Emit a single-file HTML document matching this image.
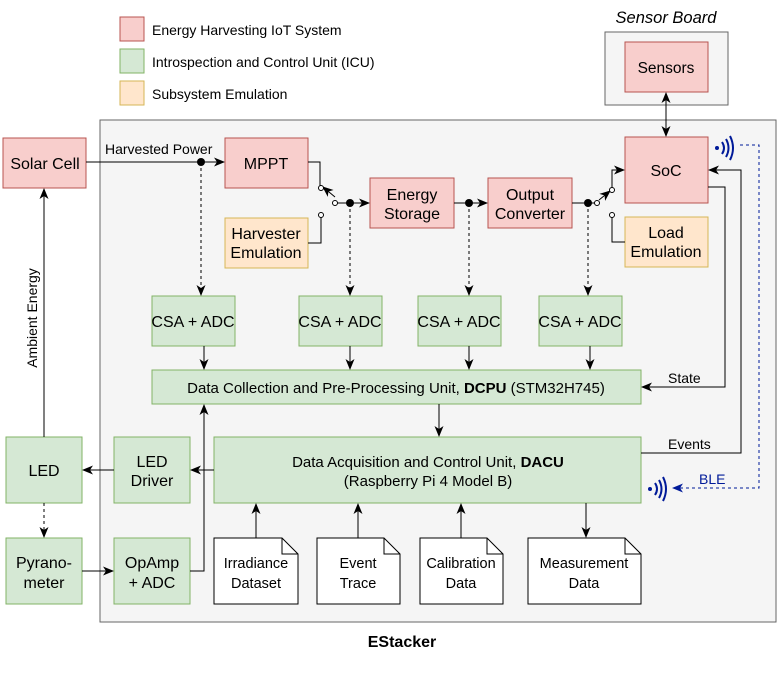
<!DOCTYPE html>
<html><head><meta charset="utf-8"><style>
html,body{margin:0;padding:0;background:#fff}
svg text{font-family:"Liberation Sans",Arial,sans-serif;font-size:14px;fill:#000}
</style></head><body>
<svg width="778" height="682" viewBox="0 0 778 682" xmlns="http://www.w3.org/2000/svg">
<defs>
<marker id="a" markerWidth="12" markerHeight="12" refX="10" refY="6" orient="auto" markerUnits="userSpaceOnUse"><path d="M0,1.5 L11,6 L0,10.5 L3,6 z" fill="#000"/></marker>
<marker id="ab" markerWidth="12" markerHeight="12" refX="10" refY="6" orient="auto" markerUnits="userSpaceOnUse"><path d="M0,1.5 L11,6 L0,10.5 L3,6 z" fill="#001a99"/></marker>
</defs>
<rect x="100" y="120" width="676" height="502" fill="#f5f5f5" stroke="#666"/>
<text x="402" y="647" text-anchor="middle" style="font-weight:bold;font-size:16px">EStacker</text>
<rect x="605" y="32" width="123" height="73" fill="#f5f5f5" stroke="#666"/>
<text x="666" y="23" text-anchor="middle" style="font-style:italic;font-size:16.5px">Sensor Board</text>
<rect x="120" y="17" width="24" height="24" fill="#f8cecc" stroke="#b85450"/>
<rect x="120" y="49" width="24" height="24" fill="#d5e8d4" stroke="#82b366"/>
<rect x="120" y="81" width="24" height="24" fill="#ffe6cc" stroke="#d6b656"/>
<text x="152" y="35" style="font-size:14px">Energy Harvesting IoT System</text>
<text x="152" y="67" style="font-size:14px">Introspection and Control Unit (ICU)</text>
<text x="152" y="99" style="font-size:14px">Subsystem Emulation</text>

<g stroke="#b85450" fill="#f8cecc">
<rect x="625" y="42" width="83" height="50"/>
<rect x="3" y="138" width="83" height="50"/>
<rect x="225" y="138" width="83" height="50"/>
<rect x="370" y="178" width="84" height="50"/>
<rect x="488" y="178" width="84" height="50"/>
<rect x="625" y="137" width="83" height="66"/>
</g>
<g stroke="#d6b656" fill="#ffe6cc">
<rect x="225" y="218" width="83" height="50"/>
<rect x="625" y="217" width="83" height="50"/>
</g>
<g stroke="#82b366" fill="#d5e8d4">
<rect x="152" y="296" width="83" height="50"/>
<rect x="299" y="296" width="83" height="50"/>
<rect x="418" y="296" width="83" height="50"/>
<rect x="539" y="296" width="83" height="50"/>
<rect x="152" y="370" width="489" height="34"/>
<rect x="214" y="437" width="427" height="66"/>
<rect x="114" y="437" width="76" height="66"/>
<rect x="6" y="437" width="76" height="66"/>
<rect x="6" y="538" width="76" height="66"/>
<rect x="114" y="538" width="76" height="66"/>
</g>
<g stroke="#000" fill="#fff">
<path d="M214,538 H282 L298,554 V604 H214 Z"/><path d="M282,538 V554 H298" fill="none"/>
<path d="M317,538 H384 L400,554 V604 H317 Z"/><path d="M384,538 V554 H400" fill="none"/>
<path d="M420,538 H487 L503,554 V604 H420 Z"/><path d="M487,538 V554 H503" fill="none"/>
<path d="M528,538 H625 L641,554 V604 H528 Z"/><path d="M625,538 V554 H641" fill="none"/>
</g>

<g text-anchor="middle">
<text x="666" y="73" style="font-size:15.5px">Sensors</text>
<text x="45" y="169" style="font-size:16px">Solar Cell</text>
<text x="266" y="169" style="font-size:16px">MPPT</text>
<text x="412" y="200" style="font-size:16px">Energy</text><text x="412" y="219" style="font-size:16px">Storage</text>
<text x="530" y="200" style="font-size:16px">Output</text><text x="530" y="219" style="font-size:16px">Converter</text>
<text x="666" y="176" style="font-size:16px">SoC</text>
<text x="266" y="239" style="font-size:16px">Harvester</text><text x="266" y="258" style="font-size:16px">Emulation</text>
<text x="666" y="238" style="font-size:16px">Load</text><text x="666" y="257" style="font-size:16px">Emulation</text>
<text x="193" y="327" style="font-size:16px">CSA + ADC</text>
<text x="340" y="327" style="font-size:16px">CSA + ADC</text>
<text x="459" y="327" style="font-size:16px">CSA + ADC</text>
<text x="580" y="327" style="font-size:16px">CSA + ADC</text>
<text x="396" y="393" style="font-size:15px">Data Collection and Pre-Processing Unit, <tspan style="font-weight:bold">DCPU</tspan> (STM32H745)</text>
<text x="428" y="467" style="font-size:15px">Data Acquisition and Control Unit, <tspan style="font-weight:bold">DACU</tspan></text>
<text x="428" y="486" style="font-size:15px">(Raspberry Pi 4 Model B)</text>
<text x="152" y="467" style="font-size:16px">LED</text><text x="152" y="486" style="font-size:16px">Driver</text>
<text x="44" y="476" style="font-size:16px">LED</text>
<text x="44" y="568" style="font-size:16px">Pyrano-</text><text x="44" y="588" style="font-size:16px">meter</text>
<text x="152" y="568" style="font-size:16px">OpAmp</text><text x="152" y="588" style="font-size:16px">+ ADC</text>
<text x="256" y="568" style="font-size:14.5px">Irradiance</text><text x="256" y="588" style="font-size:14.5px">Dataset</text>
<text x="358" y="568" style="font-size:14.5px">Event</text><text x="358" y="588" style="font-size:14.5px">Trace</text>
<text x="461" y="568" style="font-size:14.5px">Calibration</text><text x="461" y="588" style="font-size:14.5px">Data</text>
<text x="584" y="568" style="font-size:14.5px">Measurement</text><text x="584" y="588" style="font-size:14.5px">Data</text>
</g>

<g stroke="#000" stroke-width="1" fill="none">
<path d="M86,162 H224" marker-end="url(#a)"/>
<path d="M308,162 H320 V186"/>
<path d="M335,197 L323,187" marker-end="url(#a)"/>
<path d="M337,203 H369" marker-end="url(#a)"/>
<path d="M308,243 H321 V217"/>
<path d="M454,203 H487" marker-end="url(#a)"/>
<path d="M572,203 H595"/>
<path d="M599,200 L610,191" marker-end="url(#a)"/>
<path d="M612,188 V170 H624" marker-end="url(#a)"/>
<path d="M625,242 H612 V217"/>
<path d="M666,93 V136" marker-end="url(#a)"/>
<path d="M666,136 V93" marker-end="url(#a)"/>
<path d="M708,187 H725 V387 H642" marker-end="url(#a)"/>
<path d="M641,453 H741 V170 H709" marker-end="url(#a)"/>
<g stroke-dasharray="3,3">
<path d="M201,162 V295" marker-end="url(#a)"/>
<path d="M350,203 V295" marker-end="url(#a)"/>
<path d="M469,203 V295" marker-end="url(#a)"/>
<path d="M588,203 V295" marker-end="url(#a)"/>
<path d="M44,503 V537" marker-end="url(#a)"/>
</g>
<path d="M204,346 V369" marker-end="url(#a)"/>
<path d="M350,346 V369" marker-end="url(#a)"/>
<path d="M469,346 V369" marker-end="url(#a)"/>
<path d="M590,346 V369" marker-end="url(#a)"/>
<path d="M439,404 V436" marker-end="url(#a)"/>
<path d="M214,470 H191" marker-end="url(#a)"/>
<path d="M114,470 H83" marker-end="url(#a)"/>
<path d="M44,437 V189" marker-end="url(#a)"/>
<path d="M82,571 H113" marker-end="url(#a)"/>
<path d="M190,571 H204 V405" marker-end="url(#a)"/>
<path d="M256,538 V504" marker-end="url(#a)"/>
<path d="M358,538 V504" marker-end="url(#a)"/>
<path d="M461,538 V504" marker-end="url(#a)"/>
<path d="M586,503 V537" marker-end="url(#a)"/>
</g>
<g fill="#000">
<circle cx="201" cy="162" r="4"/><circle cx="350" cy="203" r="4"/><circle cx="469" cy="203" r="4"/><circle cx="588" cy="203" r="4"/>
</g>
<g fill="#fff" stroke="#000">
<circle cx="321" cy="188" r="2.5"/><circle cx="335" cy="203" r="2.5"/><circle cx="321" cy="215" r="2.5"/>
<circle cx="597" cy="203" r="2.5"/><circle cx="612" cy="190" r="2.5"/><circle cx="612" cy="215" r="2.5"/>
</g>
<path d="M740,145 H759 V488 H673" fill="none" stroke="#001a99" stroke-dasharray="3,3" marker-end="url(#ab)"/>
<g fill="none" stroke="#001a99" stroke-width="2">
<circle cx="717" cy="148" r="2" fill="#001a99" stroke="none"/>
<path d="M722,142 Q726,148 722,154"/><path d="M726,139 Q731,148 726,157"/><path d="M730,136 Q736,148 730,160"/>
<circle cx="650" cy="489" r="2" fill="#001a99" stroke="none"/>
<path d="M655,483 Q659,489 655,495"/><path d="M659,480 Q664,489 659,498"/><path d="M663,477 Q669,489 663,501"/>
</g>
<text x="105" y="154" style="font-size:14px">Harvested Power</text>
<text x="668" y="383" style="font-size:14px">State</text>
<text x="668" y="449" style="font-size:14px">Events</text>
<text x="699" y="484" style="font-size:14px;fill:#001a99">BLE</text>
<text transform="translate(37,318) rotate(-90)" text-anchor="middle" style="font-size:14px">Ambient Energy</text>
</svg>
</body></html>
